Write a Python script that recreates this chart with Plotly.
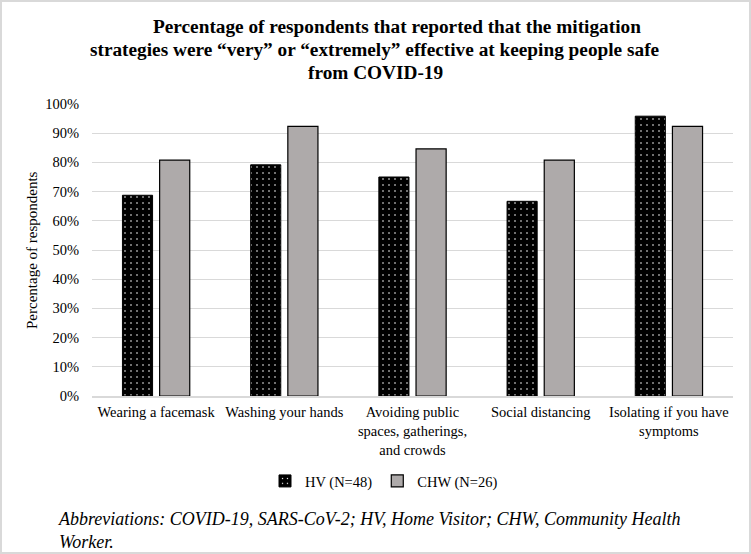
import plotly.graph_objects as go

categories = [
    "Wearing a facemask",
    "Washing your hands",
    "Avoiding public<br>spaces, gatherings,<br>and crowds",
    "Social distancing",
    "Isolating if you have<br>symptoms",
]
hv_values = [68.75, 79.17, 75.0, 66.67, 95.83]
chw_values = [80.77, 92.31, 84.62, 80.77, 92.31]
series_names = ["HV (N=48)", "CHW (N=26)"]
y_ticks = list(range(0, 101, 10))
y_tick_labels = [f"{v}%" for v in y_ticks]

title_lines = [
    "Percentage of respondents that reported that the mitigation",
    "strategies were “very” or “extremely” effective at keeping people safe",
    "from COVID-19",
]
footnote = "Abbreviations: COVID-19, SARS-CoV-2; HV, Home Visitor; CHW, Community Health<br>Worker."

W, H = 751, 554
L, R, T, B = 92, 18, 104, 158
PW = W - L - R
PH = H - T - B

def px_x(x):
    return (x - L) / PW

def px_y(y):
    return (H - B - y) / PH

FONT = "Liberation Serif"

fig = go.Figure()
fig.add_trace(go.Bar(
    x=categories, y=hv_values, name=series_names[0],
    marker=dict(
        color="black",
        line=dict(color="black", width=1),
        pattern=dict(shape=".", fillmode="replace", bgcolor="black",
                     fgcolor="white", fgopacity=1, size=6, solidity=0.06),
    ),
))
fig.add_trace(go.Bar(
    x=categories, y=chw_values, name=series_names[1],
    marker=dict(color="#AEAAAA", line=dict(color="black", width=1.2)),
))

fig.update_layout(
    width=W, height=H,
    margin=dict(l=L, r=R, t=T, b=B),
    paper_bgcolor="white", plot_bgcolor="white",
    font=dict(family=FONT, size=14.5, color="black"),
    barmode="group", bargap=0.42, bargroupgap=0.19,
    showlegend=True,
    legend=dict(orientation="h", x=px_x(384), xanchor="center",
                y=px_y(481), yanchor="middle",
                font=dict(family=FONT, size=14.5, color="black"),
                itemwidth=30, bgcolor="rgba(0,0,0,0)"),
    xaxis=dict(showgrid=False, showline=True, linecolor="#d9d9d9", linewidth=1.5,
               ticks="", tickfont=dict(family=FONT, size=14.5, color="black"),
               ticklabelstandoff=2),
    yaxis=dict(range=[0, 100], tickvals=y_ticks, ticktext=y_tick_labels,
               showgrid=True, gridcolor="#d9d9d9", gridwidth=1,
               showline=False, zeroline=False, ticks="",
               tickfont=dict(family=FONT, size=14.5, color="black"),
               ticklabelstandoff=12),
)

annotations = []
title_pos = [(397, 27), (375, 50), (375, 72)]
for text, (cx, cy) in zip(title_lines, title_pos):
    annotations.append(dict(
        text=f"<b>{text}</b>", x=px_x(cx), y=px_y(cy), xref="paper", yref="paper",
        xanchor="center", yanchor="middle", showarrow=False,
        font=dict(family=FONT, size=19.3, color="black"),
    ))
annotations.append(dict(
    text="Percentage of respondents", x=px_x(32), y=0.5, xref="paper", yref="paper",
    textangle=-90, xanchor="center", yanchor="middle", showarrow=False,
    font=dict(family=FONT, size=15, color="black"),
))
annotations.append(dict(
    text=f"<i>{footnote}</i>", x=px_x(56), y=px_y(507), xref="paper", yref="paper",
    xanchor="left", yanchor="top", align="left", showarrow=False,
    font=dict(family=FONT, size=18, color="black"),
))
fig.update_layout(annotations=annotations)

fig.add_shape(type="rect", xref="paper", yref="paper",
              x0=px_x(1), x1=px_x(750), y0=px_y(553), y1=px_y(1),
              line=dict(color="#d9d9d9", width=2), fillcolor="rgba(0,0,0,0)", layer="below")

fig.write_html("out.html",
               config={"displayModeBar": False},
               post_script="document.body.style.margin='0';document.body.style.padding='0';")
